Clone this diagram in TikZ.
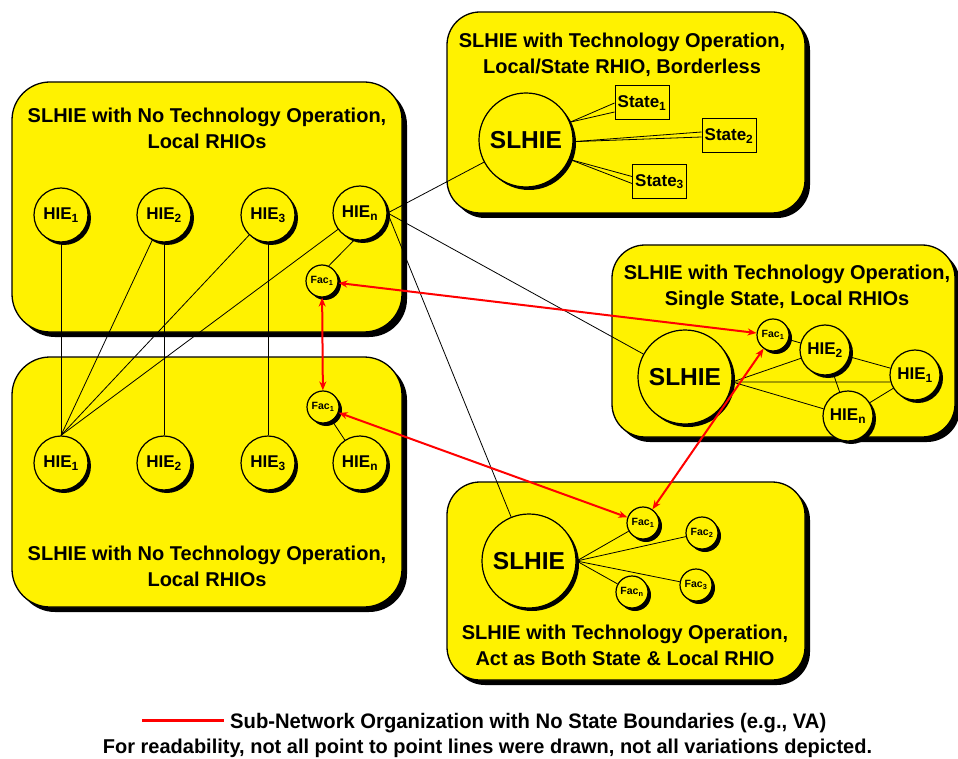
\documentclass[tikz,border=0pt]{standalone}
\usepackage{fontspec}
\setmainfont{Liberation Sans}
\usepackage{graphicx}
\usetikzlibrary{shadows,arrows.meta}

\pgfdeclarelayer{boxes}
\pgfdeclarelayer{links}
\pgfsetlayers{boxes,links,main}

\tikzset{
  panel/.style={draw=black, line width=1.3pt, fill=yellow, rounded corners=38pt,
    drop shadow={shadow xshift=5pt, shadow yshift=-5pt, fill=black, opacity=1}},
  bubble/.style={circle, draw=black, line width=1.2pt, fill=yellow, inner sep=0pt,
    drop shadow={shadow xshift=3pt, shadow yshift=-3pt, fill=black, opacity=1}},
  hub/.style={bubble, minimum size=94pt, font=\fontsize{24.5}{28}\selectfont\bfseries},
  hie/.style={bubble, minimum size=54pt, font=\fontsize{17}{20}\selectfont\bfseries},
  hiesmall/.style={bubble, minimum size=50pt, font=\fontsize{17}{20}\selectfont\bfseries},
  fac/.style={bubble, minimum size=32pt, font=\fontsize{10.5}{12}\selectfont\bfseries},
  statebox/.style={draw=black, line width=1pt, fill=yellow, minimum width=54pt,
    minimum height=34pt, inner sep=0pt, font=\fontsize{17}{20}\selectfont\bfseries},
  heading/.style={align=center, font=\fontsize{20}{26}\selectfont\bfseries},
  link/.style={draw=black, line width=0.8pt},
  redlink/.style={draw=red, line width=2pt,
    {Stealth[length=9pt,width=7pt]}-{Stealth[length=9pt,width=7pt]}},
  legendtext/.style={inner sep=0pt}
}

\begin{document}
\begin{tikzpicture}[x=1pt, y=-1pt]
\useasboundingbox (0,0) rectangle (958,759);

% panels
\begin{pgfonlayer}{boxes}
  \fill[white] (0,0) rectangle (958,759);
  \path[panel] (12,82) rectangle (402,332);
  \path[panel] (12,357) rectangle (402,607);
  \path[panel, rounded corners=33pt] (447,12) rectangle (805,213);
  \path[panel, rounded corners=33pt] (612,245) rectangle (955,437);
  \path[panel, rounded corners=33pt] (447,482) rectangle (805,680);
\end{pgfonlayer}

% panel headings
\node[heading] (tA) at (207,128.5) {SLHIE with No Technology Operation,\\Local RHIOs};
\node[heading] (tB) at (207,566) {SLHIE with No Technology Operation,\\Local RHIOs};
\node[heading] (tC) at (622,55) {SLHIE with Technology Operation,\\Local/State RHIO, Borderless};
\node[heading] (tD) at (787,287) {SLHIE with Technology Operation,\\Single State, Local RHIOs};
\node[heading] (tE) at (625,645.5) {SLHIE with Technology Operation,\\Act as Both State \& Local RHIO};

% upper left panel
\node[hie] (hieA1) at (61,215) {HIE\textsubscript{1}};
\node[hie] (hieA2) at (164,215) {HIE\textsubscript{2}};
\node[hie] (hieA3) at (268,215) {HIE\textsubscript{3}};
\node[hie] (hieAn) at (360,213) {HIE\textsubscript{n}};
\node[fac] (facA) at (322,281) {Fac\textsubscript{1}};

% lower left panel
\node[hie] (hieB1) at (61,463) {HIE\textsubscript{1}};
\node[hie] (hieB2) at (164,463) {HIE\textsubscript{2}};
\node[hie] (hieB3) at (268,463) {HIE\textsubscript{3}};
\node[hie] (hieBn) at (360,463) {HIE\textsubscript{n}};
\node[fac] (facB) at (323,407) {Fac\textsubscript{1}};

% borderless panel
\node[hub] (slC) at (526,140) {SLHIE};
\node[statebox] (stC1) at (642,103) {State\textsubscript{1}};
\node[statebox] (stC2) at (729,136) {State\textsubscript{2}};
\node[statebox] (stC3) at (659.5,181.5) {State\textsubscript{3}};

% single state panel
\node[hub] (slD) at (685,377) {SLHIE};
\node[fac] (facD) at (773,335) {Fac\textsubscript{1}};
\node[hiesmall] (hieD2) at (825,350) {HIE\textsubscript{2}};
\node[hiesmall] (hieD1) at (915,375) {HIE\textsubscript{1}};
\node[hiesmall] (hieDn) at (848,416) {HIE\textsubscript{n}};

% state and local panel
\node[hub] (slE) at (529,561) {SLHIE};
\node[fac] (facE1) at (643,523) {Fac\textsubscript{1}};
\node[fac] (facE2) at (702,533) {Fac\textsubscript{2}};
\node[fac] (facE3) at (696,585) {Fac\textsubscript{3}};
\node[fac] (facEn) at (632,592) {Fac\textsubscript{n}};

% point to point connections
\begin{pgfonlayer}{links}
  \path[link] (hieA1) -- (hieB1);
  \path[link] (hieA2) -- (hieB2);
  \path[link] (hieA3) -- (hieB3);
  \path[link] (hieB1.north) -- (hieA2);
  \path[link] (hieB1.north) -- (hieA3);
  \path[link] (hieB1.north) -- (hieAn);
  \path[link] (hieAn.-102) -- (facA.66);
  \path[link] (facB) -- (hieBn);
  \path[link] (hieAn.east) -- (slC);
  \path[link] (hieAn.east) -- (slD);
  \path[link] (hieAn.east) -- (slE);

  \path[link] (slC.22) -- (stC1.west);
  \path[link] (slC.22) -- ([yshift=-9pt]stC1.west);
  \path[link] (slC.-2) -- ([yshift=4pt]stC2.west);
  \path[link] (slC.-2) -- ([yshift=-1pt]stC2.west);
  \path[link] (slC.-24) -- ([yshift=5pt]stC3.west);
  \path[link] (slC.-24) -- ([yshift=-2pt]stC3.west);

  \path[link] (slD.-6) -- (hieD2);
  \path[link] (slD.-6) -- (hieD1.196);
  \path[link] (slD.-6) -- (hieDn);
  \path[link] (facD) -- (hieD2);
  \path[link] (hieD2) -- (hieD1);
  \path[link] (hieD2) -- (hieDn);
  \path[link] (hieDn) -- (hieD1);

  \path[link] (slE.east) -- (facE1);
  \path[link] (slE.east) -- (facE2);
  \path[link] (slE.east) -- (facE3);
  \path[link] (slE.east) -- (facEn);
\end{pgfonlayer}

% sub-network links
\path[redlink] (facA) -- (facD);
\path[redlink] (facA) -- (facB);
\path[redlink] (facB) -- (facE1);
\path[redlink] (facD) -- (facE1);

% legend
\coordinate (legA) at (142,720.5);
\coordinate (legB) at (224,720.5);
\draw[red, line width=3.3pt] (legA) -- (legB);
\node[legendtext, anchor=base west, font=\fontsize{21}{24}\selectfont\bfseries] (legT1) at (230,728.3)
  {\resizebox{596pt}{\height}{Sub-Network Organization with No State Boundaries (e.g., VA)}};
\node[legendtext, anchor=base, font=\fontsize{20}{24}\selectfont\bfseries] (legT2) at (487.5,753.3)
  {\resizebox{769pt}{\height}{For readability, not all point to point lines were drawn, not all variations depicted.}};
\end{tikzpicture}
\end{document}
